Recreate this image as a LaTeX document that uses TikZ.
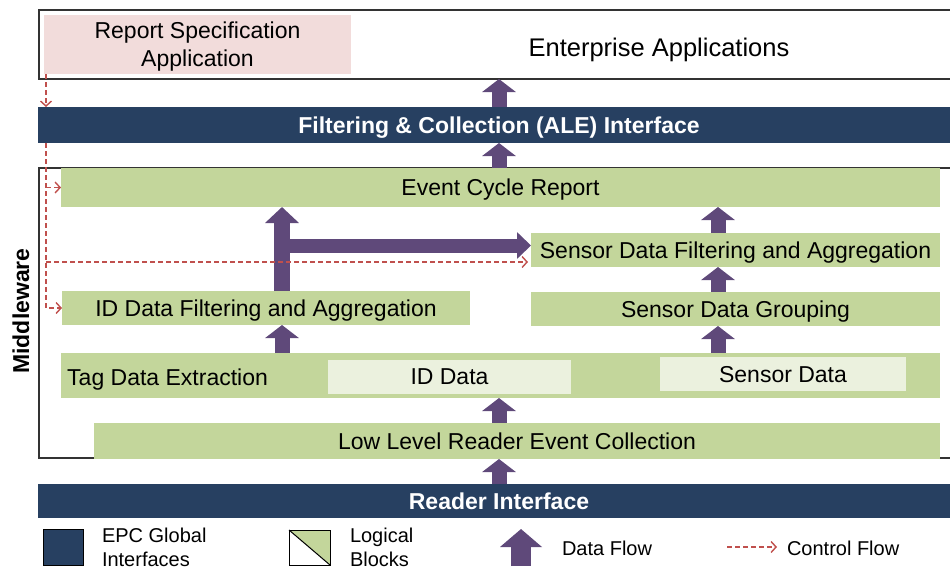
\documentclass[tikz,border=0pt]{standalone}
\usepackage{fontspec}
\setmainfont{Liberation Sans}
\usetikzlibrary{arrows.meta,calc}
\definecolor{navy}{HTML}{274061}
\definecolor{lgreen}{HTML}{C3D69B}
\definecolor{pale}{HTML}{EBF1DE}
\definecolor{pinkbg}{HTML}{F2DCDB}
\definecolor{purp}{HTML}{5F497A}
\definecolor{ctrl}{HTML}{C0504D}
\newcommand\fsMain{\fontsize{23}{28}\selectfont}
\newcommand\fsBig{\fontsize{25.5}{30}\selectfont}
\newcommand\fsLeg{\fontsize{20}{24}\selectfont}
\begin{document}
\begin{tikzpicture}[x=1pt,y=-1pt,
  blk/.style={fill=lgreen, inner sep=0pt, outer sep=0pt, font=\fsMain, text=black, text depth=0pt},
  inblk/.style={fill=pale, inner sep=0pt, outer sep=0pt, font=\fsMain, text=black, text depth=0pt},
  navybar/.style={fill=navy, inner sep=0pt, outer sep=0pt, font=\fsMain\bfseries, text=white, minimum width=922, text depth=0pt},
  frame/.style={draw=black!80, line width=1.2pt, inner sep=0pt, outer sep=0pt},
  dflow/.style={draw=purp, line width=15pt, -{Triangle[width=33pt,length=13pt]}},
  bigflow/.style={draw=purp, line width=16.5pt, -{Triangle[width=33pt,length=16pt]}},
  hflow/.style={draw=purp, line width=14pt, -{Triangle[width=26pt,length=14pt]}},
  cflow/.style={draw=ctrl, line width=1.4pt, dash pattern=on 5pt off 3pt, -{Straight Barb[length=5pt,width=11pt]}},
  leg/.style={inner sep=0pt, outer sep=0pt, font=\fsLeg, align=left, anchor=west}
]
\useasboundingbox (0,0) rectangle (950,570);
\clip (0,0) rectangle (950,570);

% column coordinates
\coordinate (c1) at (499,0);
\coordinate (c2) at (718,0);
\coordinate (c3) at (282,0);
\coordinate (cr) at (46,0);

% enterprise layer
\node[frame, minimum width=921, minimum height=69] (ent) at (499.5,44.5) {};
\node[fill=pinkbg, inner sep=0pt, outer sep=0pt, minimum width=307, minimum height=59, font=\fsMain, align=center, text depth=0pt] (rsa) at (197.5,44.5) {Report Specification\\Application};
\node[inner sep=0pt, font=\fsBig, text depth=0pt] (entlbl) at (659,47) {Enterprise Applications};

% ALE interface
\node[navybar, minimum height=36] (ale) at (499,125) {Filtering \& Collection (ALE) Interface};

% middleware frame
\node[frame, minimum width=921, minimum height=290] (mw) at (499.5,313) {};
\node[font=\fsMain\bfseries, rotate=90, inner sep=0pt] (mwlbl) at (21,311) {Middleware};

% middleware blocks
\node[blk, minimum width=879, minimum height=39] (ecr) at (500.5,187.5) {Event Cycle Report};
\node[blk, minimum width=409, minimum height=34] (sdfa) at (735.5,250) {Sensor Data Filtering and Aggregation};
\node[blk, minimum width=409, minimum height=34] (sdg) at (735.5,309) {Sensor Data Grouping};
\node[blk, minimum width=408, minimum height=34] (idfa) at (266,308) {ID Data Filtering and Aggregation};
\node[blk, minimum width=879, minimum height=45] (tde) at (500.5,375.5) {};
\node[inner sep=0pt, anchor=west, font=\fsMain, text depth=0pt] (tdelbl) at (67,377) {Tag Data Extraction};
\node[inblk, minimum width=243, minimum height=34] (idd) at (449.5,377) {ID Data};
\node[inblk, minimum width=246, minimum height=34] (sdd) at (783,374) {Sensor Data};
\node[blk, minimum width=846, minimum height=36] (llrec) at (517,441) {Low Level Reader Event Collection};

% reader interface
\node[navybar, minimum height=34] (reader) at (499,501) {Reader Interface};

% data flow
\draw[dflow] (ale.north -| c1) -- (ent.south -| c1);
\draw[dflow] (ecr.north -| c1) -- (ale.south -| c1);
\draw[dflow] (sdfa.north -| c2) -- (ecr.south -| c2);
\draw[dflow] (sdg.north -| c2) -- (sdfa.south -| c2);
\draw[dflow] (tde.north -| c2) -- (sdg.south -| c2);
\draw[dflow] (tde.north -| c3) -- (idfa.south -| c3);
\draw[dflow] (llrec.north -| c1) -- (tde.south -| c1);
\draw[dflow] (reader.north -| c1) -- (llrec.south -| c1);
\draw[bigflow] (idfa.north -| c3) -- (ecr.south -| c3);
\coordinate (br) at ($(sdfa.west)+(0,-4.5)$);
\draw[hflow] (br -| c3) -- (br);

% control flow
\draw[cflow] (rsa.south -| cr) -- (ale.north -| cr);
\draw[cflow] (ale.south -| cr) |- (idfa.west);
\draw[cflow] (ecr.west -| cr) -- (ecr.west);
\coordinate (sd) at ($(sdfa.west)+(-3,12)$);
\draw[cflow] (sd -| cr) -- (sd);

% legend
\node[draw=black, line width=1pt, fill=navy, minimum width=40, minimum height=36, inner sep=0pt] (legepc) at (63,547) {};
\node[leg] (legepct) at (102,547) {EPC Global\\Interfaces};
\node[minimum width=41, minimum height=35, inner sep=0pt, outer sep=0pt] (leglog) at (309.5,547.5) {};
\fill[lgreen] (leglog.north west) -- (leglog.north east) -- (leglog.south east) -- cycle;
\draw[line width=1pt] (leglog.north west) -- (leglog.south east);
\draw[line width=1pt] (leglog.north west) rectangle (leglog.south east);
\node[leg] (leglogt) at (350,547) {Logical\\Blocks};
\coordinate (dfs) at (521,566);
\coordinate (dft) at (521,529);
\draw[draw=purp, line width=20pt, -{Triangle[width=41pt,length=18pt]}] (dfs) -- (dft);
\node[leg] (legdft) at (562,548) {Data Flow};
\coordinate (cfs) at (727,547);
\coordinate (cft) at (777,547);
\draw[cflow] (cfs) -- (cft);
\node[leg] (legcft) at (787,548) {Control Flow};
\end{tikzpicture}
\end{document}
